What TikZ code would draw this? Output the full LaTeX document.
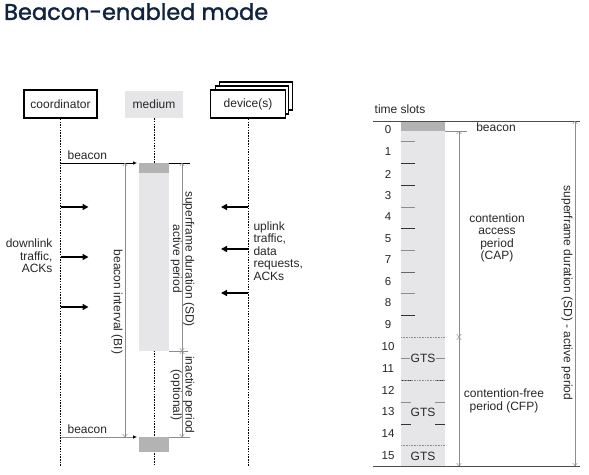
\documentclass[tikz,border=0pt]{standalone}
\usepackage{fontspec}
\setmainfont{Liberation Sans}
\newfontfamily\titlefont[FakeBold=1.6]{Poppins}
\usetikzlibrary{arrows.meta,positioning}
\definecolor{navy}{HTML}{10243F}
\definecolor{mediumfill}{HTML}{E6E6E8}
\definecolor{beaconfill}{HTML}{B3B3B3}
\definecolor{dimgrey}{HTML}{8C8C8C}

\begin{document}
\begin{tikzpicture}
[ x=1pt, y=-1pt, font=\fontsize{12}{12.5}\selectfont, text=black!85
, actor/.style={rectangle, draw, line width=1.6pt, minimum width=73pt, minimum height=28pt, fill=white, inner sep=0pt}
, lifeline/.style={line width=0.5pt, dash pattern=on 1.5pt off 1.2pt}
, msg/.style={-{Latex[length=4pt,width=3.5pt]}, line width=0.6pt}
, bulk/.style={-{Triangle[length=6pt,width=6pt]}, line width=1.6pt}
, dim/.style={dimgrey, line width=0.5pt, {To[length=3pt,width=5pt]}-{To[length=3pt,width=5pt]}}
, rot/.style={rotate=-90, align=center}
, slotnum/.style={font=\fontsize{11.5}{12}\selectfont}
, lead/.style={line width=0.6pt}
]
\useasboundingbox (0,0) rectangle (589,474);

% Title
\node (title) [anchor=north west, inner sep=0pt, text=navy, font=\titlefont\fontsize{22.5}{24}\selectfont] at (4,3) {Beacon-enabled mode};

% Actors
\coordinate (bottom) at (0,466);
\node (devback) [actor, xshift=8pt, yshift=8pt] at (248,104) {};
\node (devmid) [actor, xshift=4pt, yshift=4pt] at (248,104) {};
\node (device) [actor, minimum width=75pt] at (248,104) {device(s)};
\node (coord) [actor] at (60.5,104) {coordinator};
\node (medium) [rectangle, fill=mediumfill, minimum width=58pt, minimum height=27pt] at (154,104.5) {medium};

% Lifelines
\draw [lifeline] (coord.south) -- (coord.south |- bottom);
\draw [lifeline] (medium.south) -- (medium.south |- bottom);
\draw [lifeline] (device.south) -- (device.south |- bottom);

% Medium activity
\fill [mediumfill] (139,163) rectangle (169,351);
\fill [beaconfill] (139,163) rectangle (169,173);
\fill [beaconfill] (139,437) rectangle (169,452);

% Beacons
\coordinate (b1) at (137,163);
\coordinate (b2) at (137,437);
\draw [msg] (coord.south |- b1) -- node [above, pos=0.35] {beacon} (b1);
\draw [msg, dimgrey, -{Latex[length=4pt,width=3.5pt,black]}] (coord.south |- b2) -- node [above, pos=0.35, text=black!85] {beacon} (b2);

% Traffic
\foreach \y in {207,257,307}
  \draw [bulk] (coord.south |- 0,\y) -- ++(28,0);
\foreach \y in {207,249,293}
  \draw [bulk] (device.south |- 0,\y) -- ++(-27,0);
\node (down) [align=right, anchor=east] at (56,256) {downlink\\traffic,\\ACKs};
\node (up) [align=left, anchor=west] at (250,251) {uplink\\traffic,\\data\\requests,\\ACKs};

% Durations
\coordinate (sftop) at (182,163);
\coordinate (sfmid) at (182,351);
\coordinate (sfend) at (182,437);
\coordinate (bitop) at (125,163);
\coordinate (biend) at (125,437);
\draw [lead] (169,163) -- (190,163);
\draw [lead, dimgrey] (169,351) -- (188,351);
\draw [lead, dimgrey] (169,437) -- (190,437);
\draw [dim] (bitop) -- (biend);
\draw [dim] (sftop) -- (sfmid);
\draw [dim] (sfmid) -- (sfend);
\node (bilabel) [rot] at (117,302) {beacon interval (BI)};
\node (sflabel) [rot] at (182.5,259) {superframe duration (SD)\\active period};
\node (inlabel) [rot] at (182.5,395) {inactive period\\(optional)};

% Time slots
\node (slots) at (400,109) {time slots};
\fill [mediumfill] (401,121) rectangle (445,466);
\fill [beaconfill] (401,121) rectangle (445,131);
\draw [lead, black!70] (373,121) -- (580,121);
\draw [lead, black!70] (373,466) -- (580,466);
\foreach \n/\y in {0/130,1/152,2/174,3/196,4/217,5/239,7/260,6/282,8/303,9/325,10/347,11/369,12/390,13/412,14/434,15/456}
  \node [slotnum] at (388,\y) {\n};
\foreach \y/\c in {141/dimgrey,163/black!80,185/black!80,207/dimgrey,228/black!80,250/dimgrey,272/black!60,293/dimgrey,315/black!80}
  \draw [lead, \c] (401,\y) -- ++(14,0);
\foreach \y/\c in {358/dimgrey,380/black!80,402/dimgrey,424/black!80}
  \draw [lead, \c] (401,\y) -- ++(10,0) (445,\y) -- ++(-10,0);
\foreach \y in {337,380,445}
  \draw [lead, dimgrey, densely dotted] (401,\y) -- (445,\y);
\foreach \y in {358,412,456}
  \node [fill=mediumfill, inner sep=1pt] at (423,\y) {GTS};

% Periods
\coordinate (captop) at (459,131);
\coordinate (capend) at (459,337);
\coordinate (cfpend) at (459,466);
\coordinate (sdtop) at (575,121);
\coordinate (sdend) at (575,466);
\draw [lead, dimgrey] (445,131) -- (467,131);
\node (beacon) at (496,127) {beacon};
\draw [dim] (captop) -- (capend);
\draw [dim] (capend) -- (cfpend);
\draw [dim] (sdtop) -- (sdend);
\node (cap) [align=center] at (497,238) {contention\\access\\period\\(CAP)};
\node (cfp) [align=center] at (504,401) {contention-free\\period (CFP)};
\node (sd) [rot] at (567,293) {superframe duration (SD) - active period};
\end{tikzpicture}
\end{document}
